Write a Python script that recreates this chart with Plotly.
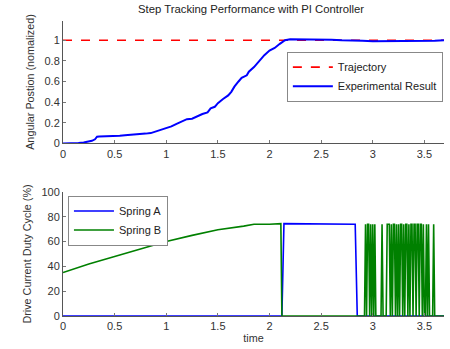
import plotly.graph_objects as go
from plotly.subplots import make_subplots

# ---- data ----
t_traj = [0, 3.69]
y_traj = [1, 1]

t_exp = [0, 0.05, 0.1, 0.15, 0.2, 0.25, 0.28, 0.31, 0.33, 0.35, 0.4, 0.5, 0.55, 0.6, 0.7, 0.75,
         0.8, 0.85, 0.9, 0.95, 1.0, 1.05, 1.1, 1.15, 1.2, 1.25, 1.3, 1.35, 1.4, 1.43, 1.47, 1.5,
         1.55, 1.6, 1.63, 1.66, 1.7, 1.73, 1.78, 1.8, 1.85, 1.9, 1.95, 2.0, 2.05, 2.1, 2.15, 2.2,
         2.3, 2.4, 2.5, 2.55, 2.6, 2.7, 2.8, 2.85, 2.9, 3.0, 3.2, 3.4, 3.5, 3.6, 3.69]
y_exp = [0.0, 0.0, 0.0, 0.005, 0.01, 0.015, 0.025, 0.04, 0.065, 0.068, 0.068, 0.072, 0.075, 0.08,
         0.085, 0.088, 0.095, 0.1, 0.115, 0.13, 0.15, 0.165, 0.19, 0.21, 0.235, 0.24, 0.265, 0.285,
         0.3, 0.34, 0.355, 0.39, 0.43, 0.465, 0.5, 0.55, 0.6, 0.635, 0.66, 0.695, 0.74, 0.8, 0.855,
         0.9, 0.925, 0.965, 1.0, 1.01, 1.01, 1.01, 1.01, 1.005, 1.005, 1.0, 1.0, 0.995, 0.995, 0.99,
         0.99, 0.99, 0.993, 0.995, 1.0]

t_a = [0, 2.12, 2.14, 2.33, 2.35, 2.83, 2.85, 3.69]
y_a = [0, 0, 74.5, 74.5, 74, 74, 0, 0]

t_b_ramp = [0, 0.25, 0.5, 0.75, 1.0, 1.25, 1.5, 1.75, 1.85, 2.0, 2.11, 2.12, 2.91]
y_b_ramp = [35, 42, 48, 54, 60, 65, 69.5, 72.5, 74, 74, 74.5, 0, 0]
# switching section sampled every 0.01 s from 2.92 to 3.62
y_b_switch = [0, 74, 0, 74, 74, 0, 74, 0, 74, 0, 74, 0, 0, 0, 0, 0, 0, 74, 0, 0, 0, 0,
              74, 74, 74, 0, 74, 0, 74, 74, 0, 74, 0, 74, 0, 74, 74, 0, 74, 0, 74, 74, 0,
              74, 0, 74, 74, 0, 74, 74, 0, 74, 74, 0, 74, 74, 0, 74, 0, 0, 74, 0, 74, 0,
              0, 0, 0, 74, 0, 0, 0]
t_b_end = [3.69]
y_b_end = [0]

t_b = t_b_ramp + [round(2.92 + 0.01 * i, 2) for i in range(len(y_b_switch))] + t_b_end
y_b = y_b_ramp + y_b_switch + y_b_end

x_ticks = [0, 0.5, 1, 1.5, 2, 2.5, 3, 3.5]
top_ticks = [0, 0.2, 0.4, 0.6, 0.8, 1]
bot_ticks = [0, 20, 40, 60, 80, 100]

# ---- figure ----
fig = make_subplots(rows=2, cols=1)
fig.add_trace(go.Scatter(x=t_traj, y=y_traj, mode="lines", name="Trajectory",
                         line=dict(color="#ff0000", width=1.6, dash="dash"), legend="legend"),
              row=1, col=1)
fig.add_trace(go.Scatter(x=t_exp, y=y_exp, mode="lines", name="Experimental Result",
                         line=dict(color="#0000ff", width=2), legend="legend"), row=1, col=1)
fig.add_trace(go.Scatter(x=t_a, y=y_a, mode="lines", name="Spring A",
                         line=dict(color="#0000ff", width=1.6), legend="legend2"), row=2, col=1)
fig.add_trace(go.Scatter(x=t_b, y=y_b, mode="lines", name="Spring B",
                         line=dict(color="#008000", width=1.6), legend="legend2"), row=2, col=1)

font = dict(family="Liberation Sans, Arial, sans-serif", size=11, color="#333333")
title_font = dict(family="Liberation Sans, Arial, sans-serif", size=10.8, color="#333333")
axis_common = dict(showgrid=False, zeroline=False, showline=True, linecolor="#555555",
                   linewidth=1, ticks="inside", ticklen=3, tickcolor="#777777", mirror=False)

fig.update_xaxes(range=[0, 3.69], tickvals=x_ticks, **axis_common)
fig.update_xaxes(domain=[0, 1], row=1, col=1)
fig.update_xaxes(title=dict(text="time", standoff=3, font=title_font), row=2, col=1)
fig.update_yaxes(**axis_common)
fig.update_yaxes(domain=[0.583, 0.998], range=[0, 1.19], tickvals=top_ticks,
                 title=dict(text="Angular Postion (nomalized)", standoff=7, font=title_font),
                 row=1, col=1)
fig.update_yaxes(domain=[0, 0.419], range=[0, 100], tickvals=bot_ticks,
                 title=dict(text="Drive Current Duty Cycle (%)", standoff=7, font=title_font),
                 row=2, col=1)

legend_common = dict(bgcolor="white", bordercolor="#888888", borderwidth=1,
                     font=dict(family="Liberation Sans, Arial, sans-serif", size=11, color="#222222"),
                     itemwidth=40, tracegroupgap=0)
fig.update_layout(
    width=450, height=349,
    margin=dict(l=63, r=6, t=20, b=29),
    plot_bgcolor="white", paper_bgcolor="white",
    font=font,
    title=dict(text="Step Tracking Performance with PI Controller", x=0.558, xanchor="center",
               y=0.985, yanchor="top", font=dict(size=11.3, color="#222222")),
    legend=dict(x=0.997, xanchor="right", y=0.893, yanchor="top", **legend_common),
    legend2=dict(x=0.013, xanchor="left", y=0.407, yanchor="top", **legend_common),
)

fig.write_html("out.html")
